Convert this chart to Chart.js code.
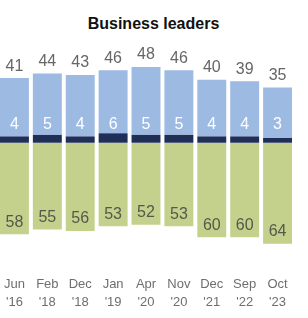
<!DOCTYPE html>
<html>
<head>
<meta charset="utf-8">
<script src="https://cdn.jsdelivr.net/npm/chart.js@4.4.1/dist/chart.umd.min.js"></script>
<style>
  html, body { margin: 0; padding: 0; background: #fff; overflow: hidden; }
  #wrap { position: relative; width: 308px; height: 318px; }
  #title { position: absolute; left: 0; top: 16px; width: 307px; text-align: center;
           font: bold 16px 'Liberation Sans', Arial, sans-serif; line-height: 16px; color: #111; }
  #chart { position: absolute; left: -2px; top: 0; }
</style>
</head>
<body>
<div id="wrap">
  <div id="title">Business leaders</div>
  <canvas id="chart" width="310" height="318"></canvas>
</div>
<script>
// survey waves
const months = ['Jun', 'Feb', 'Dec', 'Jan', 'Apr', 'Nov', 'Dec', 'Sep', 'Oct'];
const years = ["'16", "'18", "'18", "'19", "'20", "'20", "'21", "'22", "'23"];
// top (blue) total, dark part of it, and bottom (green) share
const totalTop = [41, 44, 43, 46, 48, 46, 40, 39, 35];
const strongTop = [4, 5, 4, 6, 5, 5, 4, 4, 3];
const bottomShare = [58, 55, 56, 53, 52, 53, 60, 60, 64];

const labels = months.map((m, i) => [m, years[i]]);
const restTop = totalTop.map((v, i) => v - strongTop[i]);
const negBottom = bottomShare.map(v => -v);

const FONT = "'Liberation Sans', Arial, sans-serif";

const valueLabels = {
    id: 'valueLabels',
    afterDatasetsDraw(chart) {
        const ctx = chart.ctx;
        const dark = chart.getDatasetMeta(0).data;
        const light = chart.getDatasetMeta(1).data;
        const green = chart.getDatasetMeta(2).data;
        const zero = chart.scales.y.getPixelForValue(0);
        ctx.save();
        ctx.font = '16px ' + FONT;
        ctx.textAlign = 'center';
        for (let i = 0; i < totalTop.length; i++) {
            // total above the blue bar
            ctx.fillStyle = '#666666';
            ctx.textBaseline = 'bottom';
            ctx.fillText(totalTop[i], light[i].x, light[i].y - 4);
            // small share inside, white
            ctx.fillStyle = '#ffffff';
            ctx.textBaseline = 'middle';
            ctx.fillText(strongTop[i], dark[i].x, zero - 18);
            // green share at the bottom of the bar
            ctx.fillStyle = '#55584a';
            ctx.textBaseline = 'bottom';
            ctx.fillText(bottomShare[i], green[i].x, green[i].y - 4);
        }
        ctx.restore();
    }
};

new Chart(document.getElementById('chart'), {
    type: 'bar',
    data: {
        labels: labels,
        datasets: [
            { label: 'strong', data: strongTop, backgroundColor: '#1f2f58' },
            { label: 'top', data: restTop, backgroundColor: '#9dbae3' },
            { label: 'bottom', data: negBottom, backgroundColor: '#c4d18c' }
        ]
    },
    options: {
        responsive: false,
        devicePixelRatio: 1,
        animation: false,
        categoryPercentage: 1,
        barPercentage: 0.88,
        layout: { padding: { top: 45, right: 14, left: 0, bottom: 4 } },
        plugins: {
            legend: { display: false },
            tooltip: { enabled: false }
        },
        scales: {
            x: {
                stacked: true,
                grid: { display: false, drawTicks: false },
                border: { display: false },
                afterFit: (scale) => { scale.height = 42; },
                ticks: {
                    color: '#6e6e6e',
                    padding: 3,
                    maxRotation: 0,
                    autoSkip: false,
                    font: { size: 13, family: FONT, lineHeight: 1.4 }
                }
            },
            y: {
                stacked: true,
                display: false,
                min: -82,
                max: 62
            }
        }
    },
    plugins: [valueLabels]
});
</script>
</body>
</html>
